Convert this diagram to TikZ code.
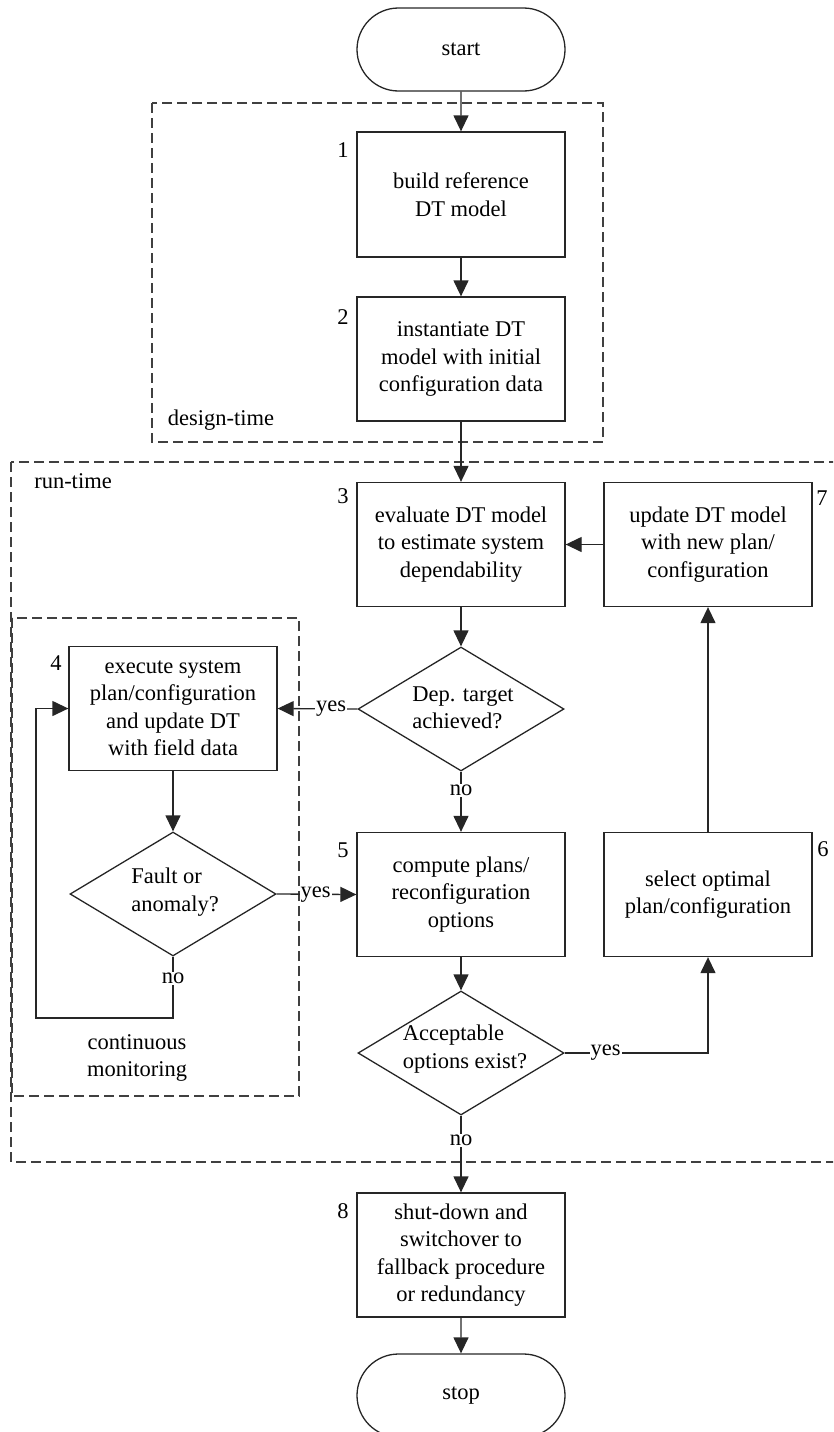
\documentclass[tikz,border=0pt]{standalone}
\usepackage{fontspec}
\setmainfont{Liberation Serif}
\usetikzlibrary{arrows.meta,shapes.geometric,shapes.misc}
\begin{document}
\begin{tikzpicture}[x=1pt,y=-1pt,
  every node/.style={font=\fontsize{22.5}{27.5}\selectfont},
  ln/.style={line width=1.3pt, draw=black!85},
  box/.style={ln, rectangle, minimum width=208pt, minimum height=124pt, inner sep=0pt, align=center},
  term/.style={ln, rounded rectangle, minimum width=208pt, minimum height=83pt, inner sep=0pt},
  dia/.style={ln, diamond, minimum width=206pt, minimum height=124pt, inner sep=0pt},
  region/.style={line width=1.3pt, draw=black!75, dash pattern=on 10pt off 5pt},
  arr/.style={ln, -{Triangle[length=16pt,width=15pt]}},
  lbl/.style={fill=white, inner sep=1pt},
  num/.style={inner sep=0pt}
]
\useasboundingbox (0,0) rectangle (833,1432);
\clip (0,0) rectangle (833,1432);

% regions
\draw[region] (152,103) rectangle (603,442);
\draw[region] (11,462) rectangle (850,1162);
\draw[region] (12,618) rectangle (299,1096);
\node (dtl) at (221,420) {design-time};
\node (rtl) at (73,481) {run-time};
\node[align=center] (cml) at (137,1058) {continuous\\monitoring};

% nodes
\node[term] (start) at (461,49.5) {start};
\node[box, minimum height=125pt] (b1) at (461,194.5) {build reference\\DT model};
\node[box] (b2) at (461,359) {instantiate DT\\model with initial\\configuration data};
\node[box] (b3) at (461,544.5) {evaluate DT model\\to estimate system\\dependability};
\node[box] (b7) at (708,544.5) {update DT model\\with new plan/\\configuration};
\node[dia] (d1) at (461,709) {};
\node[align=left] (d1t) at (463,708) {Dep. target\\achieved?};
\node[box] (b4) at (173,708.5) {execute system\\plan/configuration\\and update DT\\with field data};
\node[dia] (d2) at (173,894) {};
\node[align=left] (d2t) at (175,892) {Fault or\\anomaly?};
\node[box] (b5) at (461,894.5) {compute plans/\\reconfiguration\\options};
\node[box] (b6) at (708,894.5) {select optimal\\plan/configuration};
\node[dia] (d3) at (461,1053) {};
\node[align=left] (d3t) at (465,1049) {Acceptable\\options exist?};
\node[box] (b8) at (461,1255) {shut-down and\\switchover to\\fallback procedure\\or redundancy};
\node[term] (stop) at (461,1395.5) {stop};

% numbers
\node[num] (n1) at (343,150) {1};
\node[num] (n2) at (343,317) {2};
\node[num] (n3) at (343,496) {3};
\node[num] (n7) at (822,498) {7};
\node[num] (n4) at (56,663) {4};
\node[num] (n5) at (343,850) {5};
\node[num] (n6) at (823,849) {6};
\node[num] (n8) at (343,1211) {8};

% connectors
\draw[arr] (start) -- (b1);
\draw[arr] (b1) -- (b2);
\draw[arr] (b2) -- (b3);
\draw[arr] (b3) -- (d1);
\draw[arr] (d1.west) -- node[lbl,pos=0.33]{yes} (b4.east);
\draw[arr] (d1.south) -- node[lbl,pos=0.31]{no} (b5.north);
\draw[arr] (b4) -- (d2);
\draw[arr] (d2.east) -- node[lbl,pos=0.49]{yes} (b5.west);
\coordinate (lp1) at (173,1018);
\coordinate (lp2) at (36,1018);
\draw[arr] (d2.south) -- node[lbl,pos=0.35]{no} (lp1) -- (lp2) |- (b4.west);
\draw[arr] (b5) -- (d3);
\coordinate (c6) at (708,1053);
\draw[arr] (d3.east) -- node[lbl,pos=0.285]{yes} (c6) -- (b6.south);
\draw[arr] (b6.north) -- (b7.south);
\draw[arr] (b7.west) -- (b3.east);
\draw[arr] (d3.south) -- node[lbl,pos=0.32]{no} (b8.north);
\draw[arr] (b8) -- (stop);
\end{tikzpicture}
\end{document}
